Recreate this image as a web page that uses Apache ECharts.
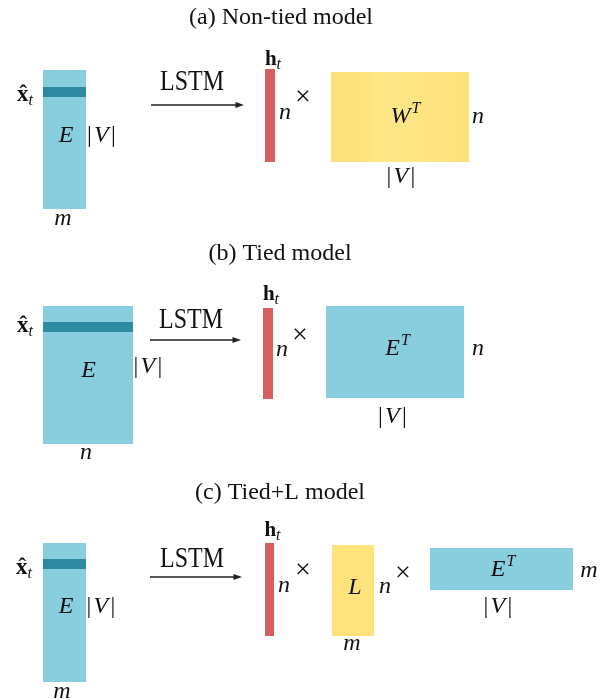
<!DOCTYPE html>
<html><head><meta charset="utf-8">
<script src="https://cdn.jsdelivr.net/npm/echarts@6/dist/echarts.min.js"></script>
<style>html,body{margin:0;padding:0;background:#fff}#c{width:607px;height:700px}</style>
</head><body><div id="c"></div>
<script>
// ---- diagram data (diagram units = the picture's own coordinate frame) ----
const panelTitles = [['(a) Non-tied model', 281, 24], ['(b) Tied model', 280, 260], ['(c) Tied+L model', 280, 499]];
const embeddingMatrices = [[43, 70, 86, 209], [43, 306, 133, 444], [43, 543, 86, 682]];
const selectedRows = [[43, 87, 86, 97], [43, 322, 133, 332], [43, 559, 86, 569]];
const hiddenVectors = [[265, 69, 275, 162], [263, 308, 273, 399], [265, 543, 274, 636]];
const outputMatrixW = [[331, 72, 469, 162]];
const outputMatrixET = [[326, 306, 464, 398], [430, 548, 573, 590]];
const projectionL = [[332, 545, 374, 636]];
const lstmArrows = [[151, 244, 105], [150, 241, 340], [150, 242, 577]];
const lstmLabels = [[192, 82.5], [191, 320.5], [192, 559]];
const inputLabels = [[25, 100.5], [25, 331.5], [24, 573.5]];
const hiddenLabels = [[273, 65], [271, 300], [272.5, 536]];
const crossLabels = [[303, 99], [300, 337], [303, 572], [403, 575]];
const mathLabels = [
  ['E', '', 66, 141.7], ['|V|', '', 102.5, 141.7], ['m', '', 63, 224.5], ['n', '', 285, 119],
  ['W', 'T', 405.5, 123], ['n', '', 478, 123], ['|V|', '', 402, 183],
  ['E', '', 88.5, 377], ['|V|', '', 149, 373], ['n', '', 86, 459], ['n', '', 282, 356],
  ['E', 'T', 397.5, 355], ['n', '', 478, 355], ['|V|', '', 393.5, 423],
  ['E', '', 66, 613], ['|V|', '', 102, 613], ['m', '', 62, 697.5], ['n', '', 284, 592],
  ['L', '', 355, 594], ['n', '', 385, 593], ['m', '', 352, 650],
  ['E', 'T', 503, 576], ['m', '', 589, 577], ['|V|', '', 499, 612.7]
];

// ---- styling ----
const SERIF = '"Liberation Serif", "Times New Roman", serif';
const CYAN = '#89CEDE', TEAL = '#2E8AA0', RED = '#D66060', YELLOW = '#FEE27C', INK = '#111';
const mctx = document.createElement('canvas').getContext('2d');
function fontStr(t) { return (t.style || 'normal') + ' ' + (t.weight || 'normal') + ' ' + t.size + 'px ' + SERIF; }
function measure(t) { mctx.font = fontStr(t); return mctx.measureText(t.text).width; }
// distance from the canvas 'middle' line to the alphabetic baseline
function midToBase(t) {
  mctx.font = fontStr(t); mctx.textBaseline = 'middle';
  const m = mctx.measureText('H');
  mctx.textBaseline = 'alphabetic';
  const v = m.alphabeticBaseline;
  return (typeof v === 'number' && isFinite(v) && v !== 0) ? Math.abs(v) : 0.3375 * t.size;
}
function layout(tokens, cx, base) {
  let total = 0;
  tokens.forEach(t => { t.w = measure(t); total += t.w + (t.gap || 0); });
  let x = cx - total / 2;
  return tokens.map(t => {
    const el = { type: 'text', x: x, y: base + (t.dy || 0) - midToBase(t),
      style: { text: t.text, font: fontStr(t), fill: INK, align: 'left', verticalAlign: 'middle' } };
    x += t.w + (t.gap || 0);
    return el;
  });
}
function rectSeries(data, fill) {
  return { type: 'custom', coordinateSystem: 'cartesian2d', silent: true, data: data,
    renderItem: function (params, api) {
      const a = api.coord([api.value(0), api.value(1)]);
      const b = api.coord([api.value(2), api.value(3)]);
      return { type: 'rect', shape: { x: a[0], y: a[1], width: b[0] - a[0], height: b[1] - a[1] }, style: { fill: fill } };
    } };
}
function labelSeries(arr, build) {
  return { type: 'custom', coordinateSystem: 'cartesian2d', silent: true,
    data: arr.map((d, i) => [d[0], d[1], i]),
    renderItem: function (params, api) {
      const p = api.coord([api.value(0), api.value(1)]);
      return { type: 'group', children: build(api.value(2), p) };
    } };
}
const yellowGrad = new echarts.graphic.LinearGradient(0, 0, 1, 0, [
  { offset: 0, color: '#FDE07A' }, { offset: 0.25, color: '#FEE27D' }, { offset: 0.35, color: '#FFE686' },
  { offset: 0.6, color: '#FFE583' }, { offset: 1, color: '#FDE17B' }]);

const series = [
  rectSeries(embeddingMatrices, CYAN),
  rectSeries(selectedRows, TEAL),
  rectSeries(hiddenVectors, RED),
  rectSeries(outputMatrixW, yellowGrad),
  rectSeries(outputMatrixET, CYAN),
  rectSeries(projectionL, YELLOW),
  { type: 'custom', coordinateSystem: 'cartesian2d', silent: true, data: lstmArrows,
    renderItem: function (params, api) {
      const a = api.coord([api.value(0), api.value(2)]);
      const b = api.coord([api.value(1), api.value(2)]);
      return { type: 'group', children: [
        { type: 'line', shape: { x1: a[0], y1: a[1], x2: b[0] - 6, y2: b[1] }, style: { stroke: '#222', lineWidth: 1.3 } },
        { type: 'polygon', shape: { points: [[b[0], b[1]], [b[0] - 8.5, b[1] - 3], [b[0] - 8.5, b[1] + 3]] }, style: { fill: '#222' } }
      ] };
    } },
  labelSeries(panelTitles.map(d => [d[1], d[2]]), (i, p) =>
    layout([{ text: panelTitles[i][0], size: 24 }], p[0], p[1])),
  labelSeries(lstmLabels, (i, p) => [{ type: 'text', x: p[0], y: p[1], scaleY: 1.2,
    style: { text: 'LSTM', font: 'normal normal 24px ' + SERIF, fill: INK, align: 'center', verticalAlign: 'middle' } }]),
  labelSeries(inputLabels, (i, p) => layout([
    { text: 'x\u0302', size: 23, weight: 'bold' },
    { text: 't', size: 16, style: 'italic', dy: 4 }], p[0], p[1])),
  labelSeries(hiddenLabels, (i, p) => layout([
    { text: 'h', size: 21, weight: 'bold' },
    { text: 't', size: 16, style: 'italic', dy: 4 }], p[0], p[1])),
  labelSeries(crossLabels, (i, p) => [{ type: 'text', x: p[0], y: p[1] - 1,
    style: { text: '\u00D7', font: 'normal normal 28px ' + SERIF, fill: INK, align: 'center', verticalAlign: 'middle' } }]),
  labelSeries(mathLabels.map(d => [d[2], d[3]]), (i, p) => {
    const m = mathLabels[i];
    const toks = [];
    m[0].split('').forEach((ch, k, all) => {
      if (ch === '|') toks.push({ text: '|', size: 24, gap: 2 });
      else toks.push({ text: ch, size: 24, style: 'italic', gap: (all[k + 1] === '|') ? 2.5 : (m[1] ? 1 : 0) });
    });
    if (m[1]) toks.push({ text: m[1], size: 16, style: 'italic', dy: -10 });
    return layout(toks, p[0], p[1]);
  })
];

const chart = echarts.init(document.getElementById('c'), null, { renderer: 'canvas' });
chart.setOption({
  backgroundColor: '#fff',
  animation: false,
  grid: { left: 0, right: 0, top: 0, bottom: 0 },
  xAxis: { type: 'value', min: 0, max: 607, show: false },
  yAxis: { type: 'value', min: 0, max: 700, inverse: true, show: false },
  series: series
});
</script></body></html>
